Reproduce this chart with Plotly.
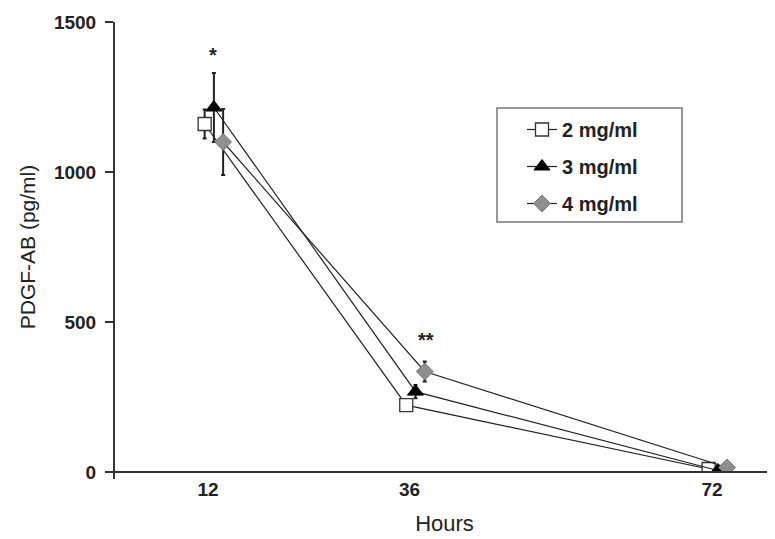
import plotly.graph_objects as go

hours = [12, 36, 72]
series_names = ["2 mg/ml", "3 mg/ml", "4 mg/ml"]
pdgf_2 = [1160, 223, 10]
pdgf_3 = [1215, 268, 5]
pdgf_4 = [1100, 335, 15]
err_2 = [48, 15, 4]
err_3 = [115, 22, 4]
err_4 = [110, 33, 5]
tick_labels = ["12", "36", "72"]
y_ticks = [0, 500, 1000, 1500]
sig_marks = ["*", "**"]
sig_hours = [12.6, 38.0]
sig_values = [1390, 440]

FONT = "Liberation Sans, Arial"
# the page body adds an 8 px offset; the figure is sized so the plot area lands at
# screen x 114..775 and y 22..472
L, T, B = 106, 14, 67
W, H = 767, 531
PW, PH = W - L, H - T - B

offsets = [-0.4, 0.7, 1.8]
values = [pdgf_2, pdgf_3, pdgf_4]
errors = [err_2, err_3, err_4]
markers = [
    dict(symbol="square", size=13, color="white", line=dict(color="#333333", width=1.3)),
    dict(symbol="triangle-up", size=14, color="black", line=dict(color="black", width=1)),
    dict(symbol="diamond", size=13, color="#8f8f8f", line=dict(color="#777777", width=1)),
]

fig = go.Figure()
for i, (name, vals, errs, off, mk) in enumerate(zip(series_names, values, errors, offsets, markers)):
    fig.add_trace(go.Scatter(
        x=[h + off for h in hours], y=vals, name=name, legendgroup=f"g{i}",
        mode="lines+markers",
        line=dict(color="#222222", width=1.2),
        marker=mk,
        error_y=dict(type="data", array=errs, visible=True, color="#222222", thickness=2, width=2),
    ))

for txt, hx, vy in zip(sig_marks, sig_hours, sig_values):
    fig.add_annotation(x=hx, y=vy, text=txt, showarrow=False,
                       font=dict(family=FONT, size=20, color="#222222", weight="bold"))

def px_x(sx):
    return (sx - 8 - L) / PW

def px_y(sy):
    return (T + PH - (sy - 8)) / PH

# x axis line extending slightly left of y axis
fig.add_shape(type="line", xref="paper", yref="paper", x0=px_x(107), x1=1, y0=0, y1=0,
              line=dict(color="#333333", width=2))
# y axis line extending slightly below zero
fig.add_shape(type="line", xref="paper", yref="paper", x0=0, x1=0, y0=px_y(479), y1=1,
              line=dict(color="#333333", width=2))
# legend box
fig.add_shape(type="rect", xref="paper", yref="paper",
              x0=px_x(497), x1=px_x(682), y0=px_y(222), y1=px_y(108),
              line=dict(color="#777777", width=1.5), fillcolor="rgba(0,0,0,0)")

fig.update_layout(
    width=W, height=H,
    margin=dict(l=L, r=0, t=T, b=B),
    plot_bgcolor="white", paper_bgcolor="white",
    font=dict(family=FONT, color="#222222"),
    showlegend=True,
    legend=dict(x=px_x(522), y=px_y(110), xanchor="left", yanchor="top",
                borderwidth=0, bgcolor="rgba(0,0,0,0)",
                font=dict(size=20, family=FONT, weight="bold", color="#222222"),
                itemwidth=30, tracegroupgap=8),
    xaxis=dict(range=[0.81, 79.5], tickvals=hours, ticktext=tick_labels,
               showgrid=False, zeroline=False, showline=False, ticks="", automargin=False,
               ticklabelstandoff=4,
               tickfont=dict(size=19, family=FONT, weight="bold"),
               title=dict(text="Hours", font=dict(size=22), standoff=16)),
    yaxis=dict(range=[0, 1500], tickvals=y_ticks, showgrid=False, zeroline=False, automargin=False,
               showline=False, ticks="outside", ticklen=8, tickwidth=1.5, tickcolor="#333333",
               ticklabelstandoff=5,
               tickfont=dict(size=19, family=FONT, weight="bold"),
               title=dict(text="PDGF-AB (pg/ml)", font=dict(size=21), standoff=12)),
)

fig.write_html("out.html")
